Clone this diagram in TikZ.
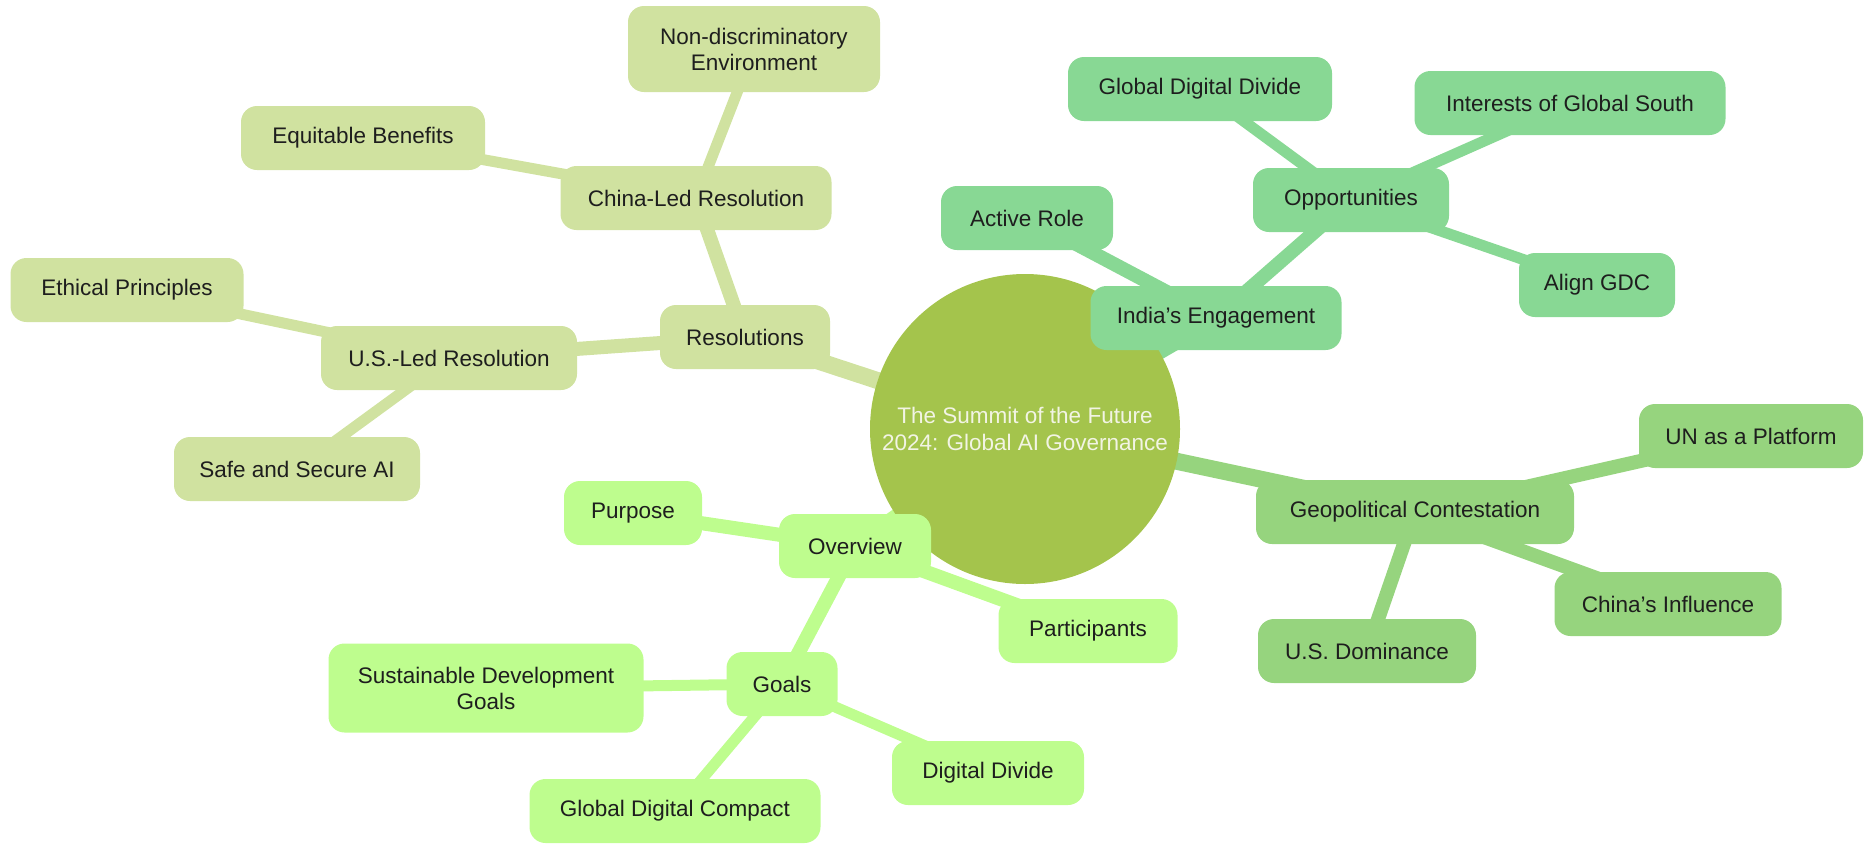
\documentclass[tikz,border=0pt]{standalone}
\usepackage{fontspec}
\setmainfont{Liberation Sans}
\pgfdeclarelayer{bg}
\pgfsetlayers{bg,main}
\definecolor{cRoot}{HTML}{A4C44C}
\definecolor{cRes}{HTML}{D0E2A0}
\definecolor{cInd}{HTML}{88D894}
\definecolor{cGeo}{HTML}{96D47E}
\definecolor{cOv}{HTML}{BEFD8E}
\definecolor{txt}{HTML}{1E1E1E}
\definecolor{rootTxt}{HTML}{F2F4E4}
\newcommand{\apos}{\symbol{39}}
\begin{document}
\begin{tikzpicture}[x=1pt,y=-1pt,
  every node/.style={font=\fontsize{22.5}{26}\selectfont, text=txt, align=center},
  box/.style={rounded corners=16pt, minimum height=64pt, inner sep=0pt},
  res/.style={box, fill=cRes},
  ind/.style={box, fill=cInd},
  geo/.style={box, fill=cGeo},
  ov/.style={box, fill=cOv},
  e0/.style={line width=17pt},
  e1/.style={line width=14pt},
  e2/.style={line width=11pt}]
\useasboundingbox (0,0) rectangle (1864,844);

% root
\node[circle, fill=cRoot, minimum size=310pt, inner sep=0pt, text=rootTxt,
  font=\fontsize{22.5}{27}\selectfont] (root) at (1025,429)
  {The Summit of the Future\\2024: Global AI Governance};

% Resolutions branch
\node[res, minimum width=170pt] (resol) at (745,337) {Resolutions};
\node[res, minimum width=271pt] (china) at (696,198) {China-Led Resolution};
\node[res, minimum width=252pt, minimum height=86pt] (nondisc) at (754,49) {Non-discriminatory\\Environment};
\node[res, minimum width=244pt] (equit) at (363,138) {Equitable Benefits};
\node[res, minimum width=256pt] (usled) at (449,358) {U.S.-Led Resolution};
\node[res, minimum width=233pt] (ethic) at (127,290) {Ethical Principles};
\node[res, minimum width=246pt] (safe) at (297,469) {Safe and Secure AI};

% India branch
\node[ind, minimum width=251pt] (india) at (1216,318) {India\apos s Engagement};
\node[ind, minimum width=172pt] (active) at (1027,218) {Active Role};
\node[ind, minimum width=196pt] (opp) at (1351,200) {Opportunities};
\node[ind, minimum width=264pt] (gdd) at (1200,89) {Global Digital Divide};
\node[ind, minimum width=311pt] (south) at (1570,103) {Interests of Global South};
\node[ind, minimum width=156pt] (align) at (1597,285) {Align GDC};

% Geopolitical branch
\node[geo, minimum width=318pt] (geo) at (1415,512) {Geopolitical Contestation};
\node[geo, minimum width=224pt] (un) at (1751,436) {UN as a Platform};
\node[geo, minimum width=227pt] (chinf) at (1668,604) {China\apos s Influence};
\node[geo, minimum width=218pt] (usdom) at (1367,651) {U.S. Dominance};

% Overview branch
\node[ov, minimum width=152pt] (over) at (855,546) {Overview};
\node[ov, minimum width=138pt] (purp) at (633,513) {Purpose};
\node[ov, minimum width=179pt] (part) at (1088,631) {Participants};
\node[ov, minimum width=111pt] (goals) at (782,684) {Goals};
\node[ov, minimum width=315pt, minimum height=89pt] (sdg) at (486,688) {Sustainable Development\\Goals};
\node[ov, minimum width=192pt] (dd) at (988,773) {Digital Divide};
\node[ov, minimum width=291pt] (gdc) at (675,811) {Global Digital Compact};

\begin{pgfonlayer}{bg}
  \draw[e0, cRes] (root.center) -- (resol.center);
  \draw[e1, cRes] (resol.center) -- (china.center);
  \draw[e1, cRes] (resol.center) -- (usled.center);
  \draw[e2, cRes] (china.center) -- (nondisc.center);
  \draw[e2, cRes] (china.center) -- (equit.center);
  \draw[e2, cRes] (usled.center) -- (ethic.center);
  \draw[e2, cRes] (usled.center) -- (safe.center);

  \draw[e0, cInd] (root.center) -- (india.center);
  \draw[e1, cInd] (india.center) -- (active.center);
  \draw[e1, cInd] (india.center) -- (opp.center);
  \draw[e2, cInd] (opp.center) -- (gdd.center);
  \draw[e2, cInd] (opp.center) -- (south.center);
  \draw[e2, cInd] (opp.center) -- (align.center);

  \draw[e0, cGeo] (root.center) -- (geo.center);
  \draw[e1, cGeo] (geo.center) -- (un.center);
  \draw[e1, cGeo] (geo.center) -- (chinf.center);
  \draw[e1, cGeo] (geo.center) -- (usdom.center);

  \draw[e0, cOv] (root.center) -- (over.center);
  \draw[e1, cOv] (over.center) -- (purp.center);
  \draw[e1, cOv] (over.center) -- (part.center);
  \draw[e1, cOv] (over.center) -- (goals.center);
  \draw[e2, cOv] (goals.center) -- (sdg.center);
  \draw[e2, cOv] (goals.center) -- (dd.center);
  \draw[e2, cOv] (goals.center) -- (gdc.center);
\end{pgfonlayer}
\end{tikzpicture}
\end{document}
